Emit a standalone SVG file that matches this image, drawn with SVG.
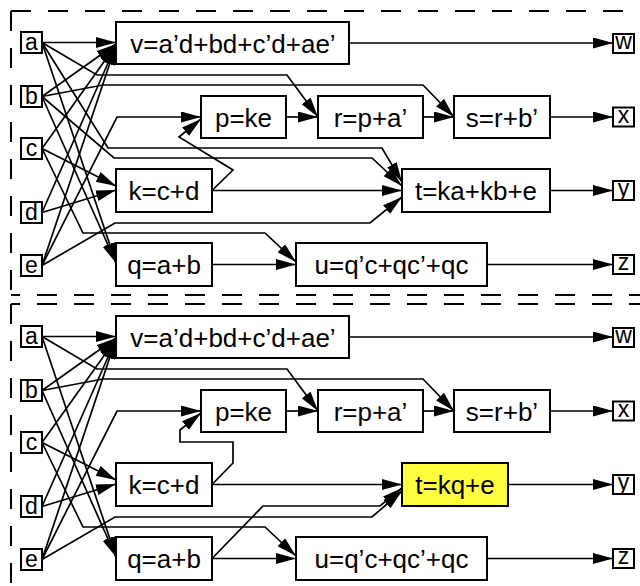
<svg xmlns="http://www.w3.org/2000/svg" width="640" height="586" viewBox="0 0 640 586">
<style>
.box{fill:#fff;stroke:#000;stroke-width:2}
.hl{fill:#ffff40}
.lbl{font-family:"Liberation Sans",Arial,sans-serif;font-size:26px;text-anchor:middle;fill:#000}
.io{font-family:"Liberation Sans",Arial,sans-serif;font-size:23px;text-anchor:middle;fill:#000}
.edge{fill:none;stroke:#000;stroke-width:1.7;marker-end:url(#ah)}
.dash{fill:none;stroke:#000;stroke-width:2;stroke-dasharray:20 17}
</style>
<defs>
<marker id="ah" markerUnits="userSpaceOnUse" markerWidth="21" markerHeight="12" refX="20" refY="5.5" orient="auto">
<path d="M0,0 L20,5.5 L0,11 Z" fill="#000"/>
</marker>
</defs>
<rect width="640" height="586" fill="#fff"/>
<g id="borders">
<line class="dash" x1="11" y1="11" x2="640" y2="11"/>
<line class="dash" x1="11" y1="11" x2="11" y2="295"/>
<line class="dash" x1="11" y1="295" x2="640" y2="295" stroke-dashoffset="11"/>
<line class="dash" x1="11" y1="304" x2="640" y2="304" stroke-dashoffset="11"/>
<line class="dash" x1="11" y1="304" x2="11" y2="586"/>
</g>
<g id="connectors">
<path class="edge" d="M42,42.5 L116,42.5"/>
<path class="edge" d="M42,96.5 L116,44"/>
<path class="edge" d="M42,148.5 L116,45"/>
<path class="edge" d="M42,212.5 L116,45"/>
<path class="edge" d="M42,265.5 L116,45"/>
<path class="edge" d="M42,42.5 L97,75 L287,75 L318,117"/>
<path class="edge" d="M42,96.5 L103,85 L423,85 L454,117"/>
<path class="edge" d="M42,42.5 L108,148 L382,148 L402,182"/>
<path class="edge" d="M42,96.5 L114,158 L372,158 L402,186"/>
<path class="edge" d="M42,42.5 L116,263"/>
<path class="edge" d="M42,96.5 L116,263"/>
<path class="edge" d="M42,148.5 L116,186"/>
<path class="edge" d="M42,212.5 L116,190"/>
<path class="edge" d="M42,148.5 L83,233 L265,233 L296,262"/>
<path class="edge" d="M42,265.5 L117,117 L201,117"/>
<path class="edge" d="M42,265.5 L115,223 L370,223 L402,197"/>
<path class="edge" d="M212,190.5 L233,170 L179,137 L201,119"/>
<path class="edge" d="M212,190.5 L402,190.5"/>
<path class="edge" d="M212,264.5 L296,264.5"/>
<path class="edge" d="M286,117 L318,117"/>
<path class="edge" d="M423,117 L454,117"/>
<path class="edge" d="M349,43 L613,43"/>
<path class="edge" d="M550,117 L613,117"/>
<path class="edge" d="M550,190.5 L613,190.5"/>
<path class="edge" d="M487,264.5 L613,264.5"/>
<path class="edge" d="M42,336.5 L116,336.5"/>
<path class="edge" d="M42,390.5 L116,338"/>
<path class="edge" d="M42,442.5 L116,339"/>
<path class="edge" d="M42,506.5 L116,339"/>
<path class="edge" d="M42,559.5 L116,339"/>
<path class="edge" d="M42,336.5 L97,369 L287,369 L318,411"/>
<path class="edge" d="M42,390.5 L103,379 L423,379 L454,411"/>
<path class="edge" d="M42,336.5 L116,557"/>
<path class="edge" d="M42,390.5 L116,557"/>
<path class="edge" d="M42,442.5 L116,480"/>
<path class="edge" d="M42,506.5 L116,484"/>
<path class="edge" d="M42,442.5 L83,527 L265,527 L296,556"/>
<path class="edge" d="M42,559.5 L117,411 L201,411"/>
<path class="edge" d="M42,559.5 L115,517 L372,517 L402,491"/>
<path class="edge" d="M212,484.5 L233,463 L233,442 L180,442 L180,430 L201,413"/>
<path class="edge" d="M212,484.5 L402,484.5"/>
<path class="edge" d="M212,558.5 L263,506 L380,506 L402,488"/>
<path class="edge" d="M212,558.5 L296,558.5"/>
<path class="edge" d="M286,411 L318,411"/>
<path class="edge" d="M423,411 L454,411"/>
<path class="edge" d="M349,337 L613,337"/>
<path class="edge" d="M550,411 L613,411"/>
<path class="edge" d="M508,484.5 L613,484.5"/>
<path class="edge" d="M487,558.5 L613,558.5"/>
</g>
<g id="a1"><rect class="box" x="21" y="32" width="21" height="21"/><text class="io" x="31.5" y="50">a</text></g>
<g id="b1"><rect class="box" x="21" y="86" width="21" height="21"/><text class="io" x="31.5" y="104">b</text></g>
<g id="c1"><rect class="box" x="21" y="138" width="21" height="21"/><text class="io" x="31.5" y="156">c</text></g>
<g id="d1"><rect class="box" x="21" y="202" width="21" height="21"/><text class="io" x="31.5" y="220">d</text></g>
<g id="e1"><rect class="box" x="21" y="255" width="21" height="21"/><text class="io" x="31.5" y="273">e</text></g>
<g id="v1"><rect class="box" x="116" y="22" width="233" height="42"/><text class="lbl" x="233" y="52.5">v=a’d+bd+c’d+ae’</text></g>
<g id="p1"><rect class="box" x="201" y="96" width="85" height="42"/><text class="lbl" x="243.5" y="126.5">p=ke</text></g>
<g id="r1"><rect class="box" x="318" y="96" width="105" height="42"/><text class="lbl" x="370.5" y="126.5">r=p+a’</text></g>
<g id="s1"><rect class="box" x="454" y="96" width="96" height="42"/><text class="lbl" x="502" y="126.5">s=r+b’</text></g>
<g id="k1"><rect class="box" x="116" y="169" width="96" height="43"/><text class="lbl" x="164" y="200">k=c+d</text></g>
<g id="t1"><rect class="box" x="402" y="169" width="148" height="43"/><text class="lbl" x="476" y="200">t=ka+kb+e</text></g>
<g id="q1"><rect class="box" x="116" y="243" width="96" height="43"/><text class="lbl" x="164" y="274">q=a+b</text></g>
<g id="u1"><rect class="box" x="296" y="243" width="191" height="43"/><text class="lbl" x="391.5" y="274">u=q’c+qc’+qc</text></g>
<g id="w1"><rect class="box" x="613" y="34" width="21" height="19"/><text class="io" x="623.5" y="49">w</text></g>
<g id="x1"><rect class="box" x="613" y="107.5" width="21" height="19"/><text class="io" x="623.5" y="122.5">x</text></g>
<g id="y1"><rect class="box" x="613" y="181" width="21" height="19"/><text class="io" x="623.5" y="196">y</text></g>
<g id="z1"><rect class="box" x="613" y="255" width="21" height="19"/><text class="io" x="623.5" y="270">z</text></g>
<g id="a2"><rect class="box" x="21" y="326" width="21" height="21"/><text class="io" x="31.5" y="344">a</text></g>
<g id="b2"><rect class="box" x="21" y="380" width="21" height="21"/><text class="io" x="31.5" y="398">b</text></g>
<g id="c2"><rect class="box" x="21" y="432" width="21" height="21"/><text class="io" x="31.5" y="450">c</text></g>
<g id="d2"><rect class="box" x="21" y="496" width="21" height="21"/><text class="io" x="31.5" y="514">d</text></g>
<g id="e2"><rect class="box" x="21" y="549" width="21" height="21"/><text class="io" x="31.5" y="567">e</text></g>
<g id="v2"><rect class="box" x="116" y="316" width="233" height="42"/><text class="lbl" x="233" y="346.5">v=a’d+bd+c’d+ae’</text></g>
<g id="p2"><rect class="box" x="201" y="390" width="85" height="42"/><text class="lbl" x="243.5" y="420.5">p=ke</text></g>
<g id="r2"><rect class="box" x="318" y="390" width="105" height="42"/><text class="lbl" x="370.5" y="420.5">r=p+a’</text></g>
<g id="s2"><rect class="box" x="454" y="390" width="96" height="42"/><text class="lbl" x="502" y="420.5">s=r+b’</text></g>
<g id="k2"><rect class="box" x="116" y="463" width="96" height="43"/><text class="lbl" x="164" y="494">k=c+d</text></g>
<g id="t2"><rect class="box hl" x="402" y="463" width="106" height="43"/><text class="lbl" x="455" y="494">t=kq+e</text></g>
<g id="q2"><rect class="box" x="116" y="537" width="96" height="43"/><text class="lbl" x="164" y="568">q=a+b</text></g>
<g id="u2"><rect class="box" x="296" y="537" width="191" height="43"/><text class="lbl" x="391.5" y="568">u=q’c+qc’+qc</text></g>
<g id="w2"><rect class="box" x="613" y="328" width="21" height="19"/><text class="io" x="623.5" y="343">w</text></g>
<g id="x2"><rect class="box" x="613" y="401.5" width="21" height="19"/><text class="io" x="623.5" y="416.5">x</text></g>
<g id="y2"><rect class="box" x="613" y="475" width="21" height="19"/><text class="io" x="623.5" y="490">y</text></g>
<g id="z2"><rect class="box" x="613" y="549" width="21" height="19"/><text class="io" x="623.5" y="564">z</text></g>
</svg>
